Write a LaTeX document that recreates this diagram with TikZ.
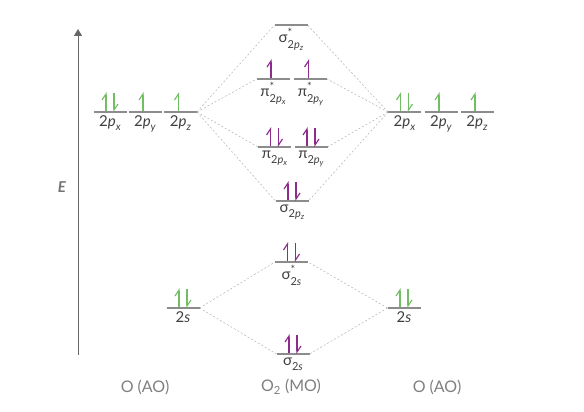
\documentclass[tikz,border=0pt]{standalone}
\usepackage{fontspec}
\setmainfont{Lato}
\usetikzlibrary{arrows.meta}
\definecolor{aogreen}{HTML}{72BF63}
\definecolor{mopurple}{HTML}{8E2C8E}
\definecolor{levelgray}{HTML}{8C8C8C}
\def\lw{33pt}
\def\eh{19pt}
\newcommand{\tp}[1]{2\textit{p}\raisebox{-0.25em}{\fontsize{10.5}{10.5}\selectfont\textit{#1}}}
\newcommand{\mosub}[1]{2\textit{p}\raisebox{-0.2em}{\fontsize{8}{8}\selectfont\textit{#1}}}
\newcommand{\orb}[3]{#1\rlap{\raisebox{0.4em}{\fontsize{11}{11}\selectfont #2}}\raisebox{-0.35em}{\fontsize{11}{11}\selectfont #3}}
\newcommand{\pair}[2]{%
% #1 = level node, #2 = colour
\draw[harp, #2] ([xshift=-4pt,yshift=1pt]#1.center) -- ++(0,\eh);
\draw[harp, #2] ([xshift=4pt,yshift=\eh]#1.center) -- ++(0,-\eh);
}
\newcommand{\single}[2]{%
\draw[harp, #2] ([xshift=-2pt,yshift=1pt]#1.center) -- ++(0,\eh);
}

\begin{document}
\begin{tikzpicture}[
    x=1pt, y=1pt,
    level/.style={minimum width=\lw, minimum height=0pt, inner sep=0pt, outer sep=0pt},
    lab/.style={font=\fontsize{15}{17}\selectfont, text=black!75, inner sep=3.5pt},
    link/.style={dash pattern=on 2pt off 2pt, draw=black!30, line width=0.5pt},
    levelline/.style={draw=levelgray, line width=1.4pt},
    harp/.style={line width=1.2pt, -{Straight Barb[harpoon, length=6pt, width=8pt]}},
    atomlab/.style={font=\fontsize{16}{18}\selectfont, text=black!50}
]
\useasboundingbox (0,0) rectangle (584,412);

% energy axis
\coordinate (axis-b) at (78,57);
\coordinate (axis-t) at (78,383);
\draw[line width=1pt, black!60, -{Triangle[length=7pt, width=8pt]}] (axis-b) -- (axis-t);
\node[font=\bfseries\itshape\fontsize{15}{17}\selectfont, text=black!55] (E) at (62,225) {E};

% left atom
\node[level, label={[lab]below:{\tp{x}}}] (Lpx) at (110,300) {};
\node[level, label={[lab]below:{\tp{y}}}] (Lpy) at (145,300) {};
\node[level, label={[lab]below:{\tp{z}}}] (Lpz) at (180.5,300) {};
\node[level, label={[lab]below:{2\textit{s}}}] (L2s) at (183,104) {};

% right atom
\node[level, label={[lab]below:{\tp{x}}}] (Rpx) at (404.5,300) {};
\node[level, label={[lab]below:{\tp{y}}}] (Rpy) at (441,300) {};
\node[level, label={[lab]below:{\tp{z}}}] (Rpz) at (477,300) {};
\node[level, label={[lab]below:{2\textit{s}}}] (R2s) at (404,104) {};

% molecule
\node[level, label={[lab]below:{\orb{σ}{*}{\mosub{z}}}}] (sPs) at (291,387) {};
\node[level, label={[lab]below:{\orb{π}{*}{\mosub{x}}}}] (pPxs) at (273,333) {};
\node[level, label={[lab]below:{\orb{π}{*}{\mosub{y}}}}] (pPys) at (310.5,333) {};
\node[level, label={[lab]below:{\orb{π}{}{\mosub{x}}}}] (pPx) at (274.5,265) {};
\node[level, label={[lab]below:{\orb{π}{}{\mosub{y}}}}] (pPy) at (311,265) {};
\node[level, label={[lab]below:{\orb{σ}{}{\mosub{z}}}}] (sP) at (292,211) {};
\node[level, label={[lab]below:{\orb{σ}{*}{2\textit{s}}}}] (sSs) at (291.5,150) {};
\node[level, label={[lab]below:{\orb{σ}{}{2\textit{s}}}}] (sS) at (293,58) {};

% correlation lines
\foreach \m in {sPs,pPxs,pPx,sP}
  \draw[link] (Lpz.east) -- (\m.west);
\foreach \m in {sPs,pPys,pPy,sP}
  \draw[link] (Rpx.west) -- (\m.east);
\foreach \m in {sSs,sS} {
  \draw[link] (L2s.east) -- (\m.west);
  \draw[link] (R2s.west) -- (\m.east);
}

% levels
\foreach \n in {Lpx,Lpy,Lpz,L2s,Rpx,Rpy,Rpz,R2s,sPs,pPxs,pPys,pPx,pPy,sP,sSs,sS}
  \draw[levelline] (\n.west) -- (\n.east);

% electrons
\pair{Lpx}{aogreen}
\single{Lpy}{aogreen}
\single{Lpz}{aogreen}
\pair{L2s}{aogreen}
\pair{Rpx}{aogreen}
\single{Rpy}{aogreen}
\single{Rpz}{aogreen}
\pair{R2s}{aogreen}
\single{pPxs}{mopurple}
\single{pPys}{mopurple}
\pair{pPx}{mopurple}
\pair{pPy}{mopurple}
\pair{sP}{mopurple}
\pair{sSs}{mopurple}
\pair{sS}{mopurple}

% atom and molecule names
\node[atomlab] (AOl) at (145,25) {O (AO)};
\node[atomlab] (MO) at (291,25) {O\textsubscript{2} (MO)};
\node[atomlab] (AOr) at (437,25) {O (AO)};
\end{tikzpicture}
\end{document}
